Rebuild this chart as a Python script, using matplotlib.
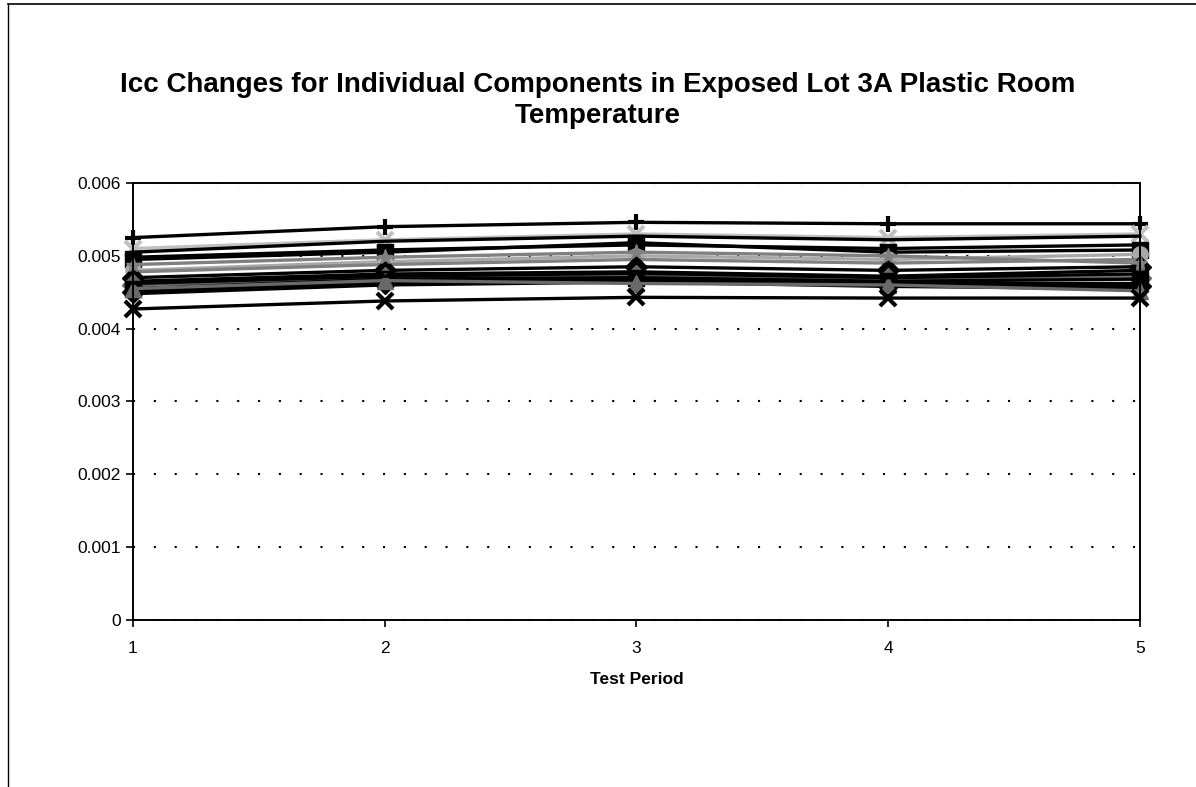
import numpy as np
import matplotlib.pyplot as plt
from matplotlib.lines import Line2D

plt.rcParams['font.family'] = ['Liberation Sans', 'DejaVu Sans']

# Test periods and Icc readings (A) for each component
periods = [1, 2, 3, 4, 5]
comp_01 = [0.00525, 0.00540, 0.00546, 0.00544, 0.00544]
comp_02 = [0.00510, 0.00522, 0.00530, 0.00525, 0.00530]
comp_03 = [0.00505, 0.00520, 0.00527, 0.00522, 0.00527]
comp_04 = [0.00498, 0.00508, 0.00515, 0.00510, 0.00515]
comp_05 = [0.00495, 0.00505, 0.00518, 0.00505, 0.00508]
comp_06 = [0.00480, 0.00492, 0.00500, 0.00495, 0.00502]
comp_07 = [0.00478, 0.00488, 0.00495, 0.00490, 0.00495]
comp_08 = [0.00470, 0.00480, 0.00485, 0.00480, 0.00485]
comp_09 = [0.00465, 0.00475, 0.00478, 0.00472, 0.00480]
comp_10 = [0.00460, 0.00470, 0.00472, 0.00468, 0.00470]
comp_11 = [0.00455, 0.00468, 0.00470, 0.00465, 0.00468]
comp_12 = [0.00452, 0.00465, 0.00468, 0.00462, 0.00462]
comp_13 = [0.00450, 0.00462, 0.00466, 0.00460, 0.00458]
comp_14 = [0.00448, 0.00460, 0.00464, 0.00458, 0.00455]
comp_15 = [0.00455, 0.00466, 0.00462, 0.00460, 0.00452]
comp_16 = [0.00488, 0.00498, 0.00505, 0.00500, 0.00490]
comp_17 = [0.00462, 0.00472, 0.00476, 0.00470, 0.00475]
comp_18 = [0.00427, 0.00438, 0.00443, 0.00442, 0.00442]

series = [comp_01, comp_02, comp_03, comp_04, comp_05, comp_06, comp_07, comp_08, comp_09,
          comp_10, comp_11, comp_12, comp_13, comp_14, comp_15, comp_16, comp_17, comp_18]
markers = ['+', 'x', None, None, 's', 'o', None, 'D', '^',
           'D', 's', 'o', 'D', None, '^', '*', None, 'x']
colors = ['black', 'silver', 'black', 'black', 'black', 'darkgray', 'gray', 'black', 'black',
          'dimgray', 'black', 'black', 'black', 'black', 'dimgray', 'gray', 'black', 'black']

fig = plt.figure(figsize=(11.96, 7.87), dpi=100)
ax = fig.add_axes([0.1112, 0.2122, 0.8418, 0.5553])

for vals, m, c in zip(series, markers, colors):
    ax.plot(periods, vals, color=c, linewidth=2.4, marker=m, markersize=11,
            markeredgewidth=3 if m in ('+', 'x') else 1, clip_on=False)

ax.set_xlim(1, 5)
ax.set_ylim(0, 0.006)
ax.set_xticks(periods)
ax.set_yticks([0, 0.001, 0.002, 0.003, 0.004, 0.005, 0.006])
ax.set_yticklabels(['0', '0.001', '0.002', '0.003', '0.004', '0.005', '0.006'])
ax.yaxis.grid(True, linestyle=(0, (1, 9)), color='black', linewidth=1.5)
ax.set_axisbelow(True)
ax.tick_params(labelsize=12.5, direction='out', length=5, width=1.2)
ax.tick_params(axis='x', pad=10)
for s in ax.spines.values():
    s.set_linewidth(1.4)
ax.set_xlabel('Test Period', fontsize=12.5, fontweight='bold', labelpad=12)

fig.text(0.5, 0.892, 'Icc Changes for Individual Components in Exposed Lot 3A Plastic Room',
         ha='center', va='center', fontsize=20, fontweight='bold')
fig.text(0.5, 0.852, 'Temperature', ha='center', va='center', fontsize=20, fontweight='bold')

# outer chart border (top and left edges only show on the scan)
fig.add_artist(Line2D([0.007, 1.0], [0.995, 0.995], transform=fig.transFigure,
                      color='black', linewidth=1.2))
fig.add_artist(Line2D([0.007, 0.007], [0.0, 0.995], transform=fig.transFigure,
                      color='black', linewidth=1))

fig.savefig('out.png', dpi=100)
